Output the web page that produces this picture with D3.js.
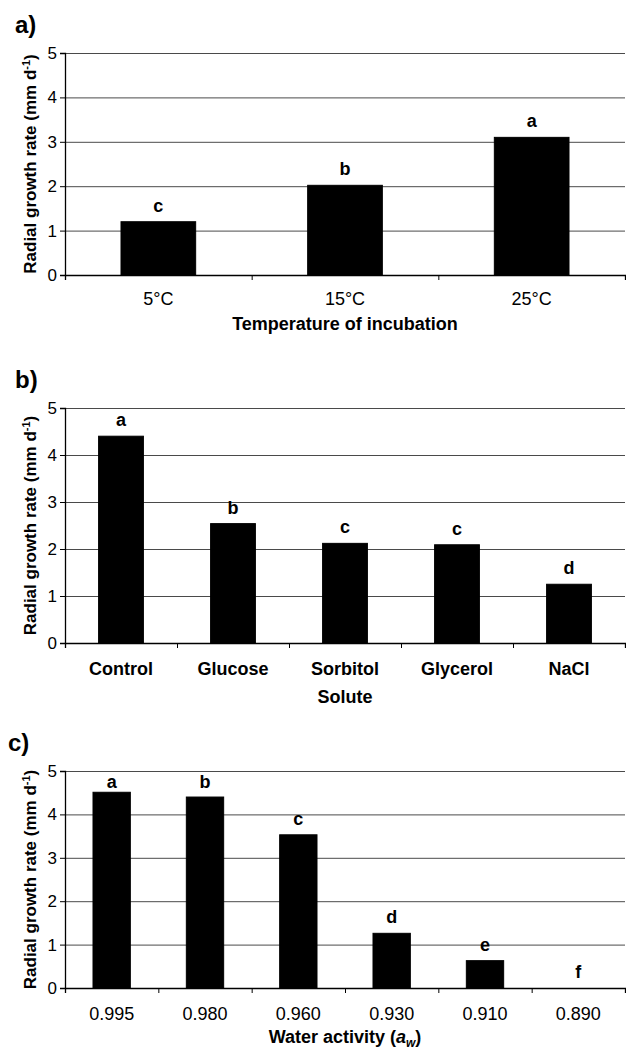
<!DOCTYPE html>
<html>
    <head>
        <title>Radial growth rate</title>
        <meta charset="UTF-8">
        <style type="text/css">
            body{
                margin: 0;
                background: #fff;
            }
            svg text{
                font-family: "Liberation Sans", Arial, sans-serif;
                fill: #000;
            }
            .grid line{
                stroke: #4a4a4a;
                stroke-width: 1px;
            }
            .grid .domain{
                display: none;
            }
            .bar{
                fill: #000;
                stroke: #000;
                stroke-width: 1px;
            }
        </style>
        <script src="https://d3js.org/d3.v7.min.js"></script>
    </head>
    <body>
        <svg width="626" height="1052"></svg>

        <script type="text/javascript">
            // values
            var tempCats = ["5\u00B0C", "15\u00B0C", "25\u00B0C"];
            var tempRates = [1.2, 2.02, 3.1];
            var tempLetters = ["c", "b", "a"];

            var soluteCats = ["Control", "Glucose", "Sorbitol", "Glycerol", "NaCl"];
            var soluteRates = [4.4, 2.54, 2.12, 2.09, 1.25];
            var soluteLetters = ["a", "b", "c", "c", "d"];

            var awCats = ["0.995", "0.980", "0.960", "0.930", "0.910", "0.890"];
            var awRates = [4.51, 4.4, 3.53, 1.26, 0.63, 0];
            var awLetters = ["a", "b", "c", "d", "e", "f"];

            var yTicks = [0, 1, 2, 3, 4, 5];

            var svg = d3.select("svg"),
                left = 65,
                right = 625;

            var panels = [
                {tag: "a)", tagX: 15, tagY: 33, top: 53, bottom: 275, tickPad: 17, titleY: 330,
                 cats: tempCats, vals: tempRates, letters: tempLetters, tickBold: false,
                 title: "Temperature of incubation"},
                {tag: "b)", tagX: 15, tagY: 388, top: 408, bottom: 643, tickPad: 19, titleY: 703,
                 cats: soluteCats, vals: soluteRates, letters: soluteLetters, tickBold: true,
                 title: "Solute"},
                {tag: "c)", tagX: 8, tagY: 751, top: 771, bottom: 988, tickPad: 19, titleY: 1043,
                 cats: awCats, vals: awRates, letters: awLetters, tickBold: false,
                 title: "aw"}
            ];

            panels.forEach(drawPanel);

            function drawPanel(p){
                var data = p.cats.map(function(c, i){
                    return {cat: c, val: p.vals[i], letter: p.letters[i]};
                });

                var x = d3.scaleBand()
                    .domain(p.cats)
                    .range([left, right])
                    .paddingInner(0.6)
                    .paddingOuter(0.3);

                // boundaries between categories carry the tick marks
                var xb = d3.scaleLinear()
                    .domain([0, p.cats.length])
                    .range([left, right]);

                var y = d3.scaleLinear()
                    .domain([0, 5])
                    .range([p.bottom, p.top]);

                var g = svg.append("g");

                g.append("g")
                    .attr("class", "grid")
                    .attr("transform", `translate(${left},0)`)
                    .call(d3.axisLeft(y).tickValues(yTicks.slice(1)).tickSize(-(right - left)).tickFormat(""));

                g.selectAll(".bar")
                    .data(data)
                    .enter().append("rect")
                    .attr("class", "bar")
                    .attr("x", function(d){ return x(d.cat); })
                    .attr("width", x.bandwidth())
                    .attr("y", function(d){ return y(d.val); })
                    .attr("height", function(d){ return y(0) - y(d.val); });

                g.selectAll(".sig")
                    .data(data)
                    .enter().append("text")
                    .attr("class", "sig")
                    .attr("x", function(d){ return x(d.cat) + x.bandwidth() / 2; })
                    .attr("y", function(d){ return Math.max(y(d.val) - 10, p.top + 17); })
                    .attr("text-anchor", "middle")
                    .style("font-size", "18px")
                    .style("font-weight", "bold")
                    .text(function(d){ return d.letter; });

                var yAxis = g.append("g")
                    .attr("transform", `translate(${left},0)`)
                    .call(d3.axisLeft(y).tickValues(yTicks).tickFormat(d3.format("d")).tickSize(5).tickPadding(3));
                yAxis.select(".domain").attr("stroke", "#000").attr("stroke-width", 1.3);
                yAxis.selectAll("text").style("font-size", "17px");

                var xAxis = g.append("g")
                    .attr("transform", `translate(0,${p.bottom})`)
                    .call(d3.axisBottom(xb).ticks(p.cats.length).tickSize(5).tickFormat(""));
                xAxis.select(".domain").attr("stroke", "#000").attr("stroke-width", 1.3);

                var xLabels = g.append("g")
                    .attr("transform", `translate(0,${p.bottom})`)
                    .call(d3.axisBottom(x).tickSize(0).tickPadding(p.tickPad));
                xLabels.select(".domain").remove();
                xLabels.selectAll("text")
                    .style("font-size", "18px")
                    .style("font-weight", p.tickBold ? "bold" : "normal");

                // x axis title
                var t = g.append("text")
                    .attr("x", (left + right) / 2)
                    .attr("y", p.titleY)
                    .attr("text-anchor", "middle")
                    .style("font-size", "18px")
                    .style("font-weight", "bold");
                if(p.title === "aw"){
                    t.append("tspan").text("Water activity (");
                    t.append("tspan").style("font-style", "italic").text("a");
                    t.append("tspan").style("font-style", "italic").style("font-size", "12px")
                        .attr("dy", 4).text("w");
                    t.append("tspan").attr("dy", -4).text(")");
                } else {
                    t.text(p.title);
                }

                // y axis title
                var yl = g.append("text")
                    .attr("transform", `translate(36,${(p.top + p.bottom) / 2}) rotate(-90)`)
                    .attr("text-anchor", "middle")
                    .style("font-size", "17px")
                    .style("font-weight", "bold");
                yl.append("tspan").text("Radial growth rate (mm d");
                yl.append("tspan").attr("dy", -6).style("font-size", "11px").text("-1");
                yl.append("tspan").attr("dy", 6).text(")");

                g.append("text")
                    .attr("x", p.tagX)
                    .attr("y", p.tagY)
                    .style("font-size", "24px")
                    .style("font-weight", "bold")
                    .text(p.tag);
            }
        </script>
    </body>
</html>
